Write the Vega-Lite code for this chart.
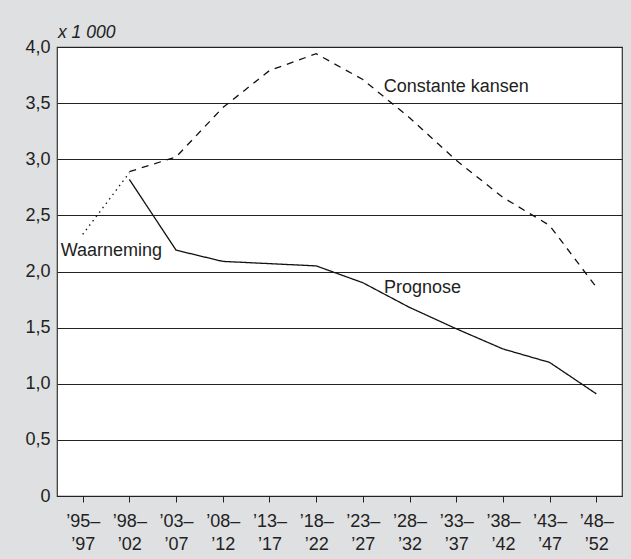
{
  "$schema": "https://vega.github.io/schema/vega-lite/v6.json",
  "autosize": {"type": "none"},
  "width": 565,
  "height": 449,
  "padding": {"left": 57, "top": 47, "right": 9, "bottom": 63},
  "background": "#dfe0e1",
  "title": {"text": "x 1 000", "anchor": "start", "frame": "group", "font": "Liberation Sans", "fontSize": 17.5, "fontStyle": "italic", "fontWeight": "normal", "color": "#222", "offset": -3, "dx": 1},
  "config": {
    "font": "Liberation Sans",
    "view": {"fill": "white", "stroke": "#333", "strokeWidth": 1.2}
  },
  "datasets": {
    "lines": [
      {"period": "’95–’97", "series": "Waarneming", "value": 2.33},
      {"period": "’98–’02", "series": "Waarneming", "value": 2.88},
      {"period": "’98–’02", "series": "Prognose", "value": 2.82},
      {"period": "’03–’07", "series": "Prognose", "value": 2.19},
      {"period": "’08–’12", "series": "Prognose", "value": 2.09},
      {"period": "’13–’17", "series": "Prognose", "value": 2.07},
      {"period": "’18–’22", "series": "Prognose", "value": 2.05},
      {"period": "’23–’27", "series": "Prognose", "value": 1.9},
      {"period": "’28–’32", "series": "Prognose", "value": 1.68},
      {"period": "’33–’37", "series": "Prognose", "value": 1.49},
      {"period": "’38–’42", "series": "Prognose", "value": 1.31},
      {"period": "’43–’47", "series": "Prognose", "value": 1.19},
      {"period": "’48–’52", "series": "Prognose", "value": 0.91},
      {"period": "’98–’02", "series": "Constante kansen", "value": 2.89},
      {"period": "’03–’07", "series": "Constante kansen", "value": 3.02},
      {"period": "’08–’12", "series": "Constante kansen", "value": 3.46},
      {"period": "’13–’17", "series": "Constante kansen", "value": 3.79},
      {"period": "’18–’22", "series": "Constante kansen", "value": 3.94},
      {"period": "’23–’27", "series": "Constante kansen", "value": 3.71},
      {"period": "’28–’32", "series": "Constante kansen", "value": 3.37},
      {"period": "’33–’37", "series": "Constante kansen", "value": 2.99},
      {"period": "’38–’42", "series": "Constante kansen", "value": 2.66},
      {"period": "’43–’47", "series": "Constante kansen", "value": 2.41},
      {"period": "’48–’52", "series": "Constante kansen", "value": 1.86}
    ]
  },
  "encoding": {
    "x": {
      "field": "period", "type": "ordinal",
      "sort": ["’95–’97", "’98–’02", "’03–’07", "’08–’12", "’13–’17", "’18–’22", "’23–’27", "’28–’32", "’33–’37", "’38–’42", "’43–’47", "’48–’52"],
      "scale": {"type": "point", "padding": 0.55},
      "axis": {
        "title": null, "labelAngle": 0, "domain": true, "domainColor": "#222", "domainWidth": 1.2,
        "ticks": true, "tickColor": "#222", "tickSize": 6, "tickWidth": 1,
        "labelFontSize": 18, "labelColor": "#222", "labelPadding": 10, "labelBaseline": "top", "labelLineHeight": 23,
        "labelExpr": "[slice(datum.value, 0, 4), slice(datum.value, 4)]"
      }
    },
    "y": {
      "field": "value", "type": "quantitative",
      "scale": {"domain": [0, 4], "nice": false},
      "axis": {
        "title": null, "values": [0, 0.5, 1, 1.5, 2, 2.5, 3, 3.5, 4], "ticks": false, "domain": false,
        "grid": true, "gridColor": "#222", "gridWidth": 1, "gridOpacity": 1,
        "labelFontSize": 18, "labelColor": "#222", "labelPadding": 7,
        "labelExpr": "datum.value == 0 ? '0' : replace(format(datum.value, '.1f'), '.', ',')"
      }
    }
  },
  "layer": [
    {
      "data": {"name": "lines"},
      "mark": {"type": "line", "color": "#111", "strokeWidth": 1.3},
      "encoding": {
        "detail": {"field": "series"},
        "strokeDash": {
          "field": "series", "type": "nominal", "legend": null,
          "scale": {"domain": ["Waarneming", "Prognose", "Constante kansen"], "range": [[1.5, 4], [1, 0], [7, 6]]}
        }
      }
    },
    {
      "data": {"values": [{"period": "’95–’97", "value": 2.18, "label": "Waarneming"}]},
      "mark": {"type": "text", "align": "left", "dx": -22, "fontSize": 18, "color": "#222"},
      "encoding": {"text": {"field": "label"}}
    },
    {
      "data": {"values": [{"period": "’33–’37", "value": 3.64, "label": "Constante kansen"}]},
      "mark": {"type": "text", "align": "center", "dx": 0, "fontSize": 18, "color": "#222"},
      "encoding": {"text": {"field": "label"}}
    },
    {
      "data": {"values": [{"period": "’28–’32", "value": 1.85, "label": "Prognose"}]},
      "mark": {"type": "text", "align": "center", "dx": 13, "fontSize": 18, "color": "#222"},
      "encoding": {"text": {"field": "label"}}
    }
  ]
}
